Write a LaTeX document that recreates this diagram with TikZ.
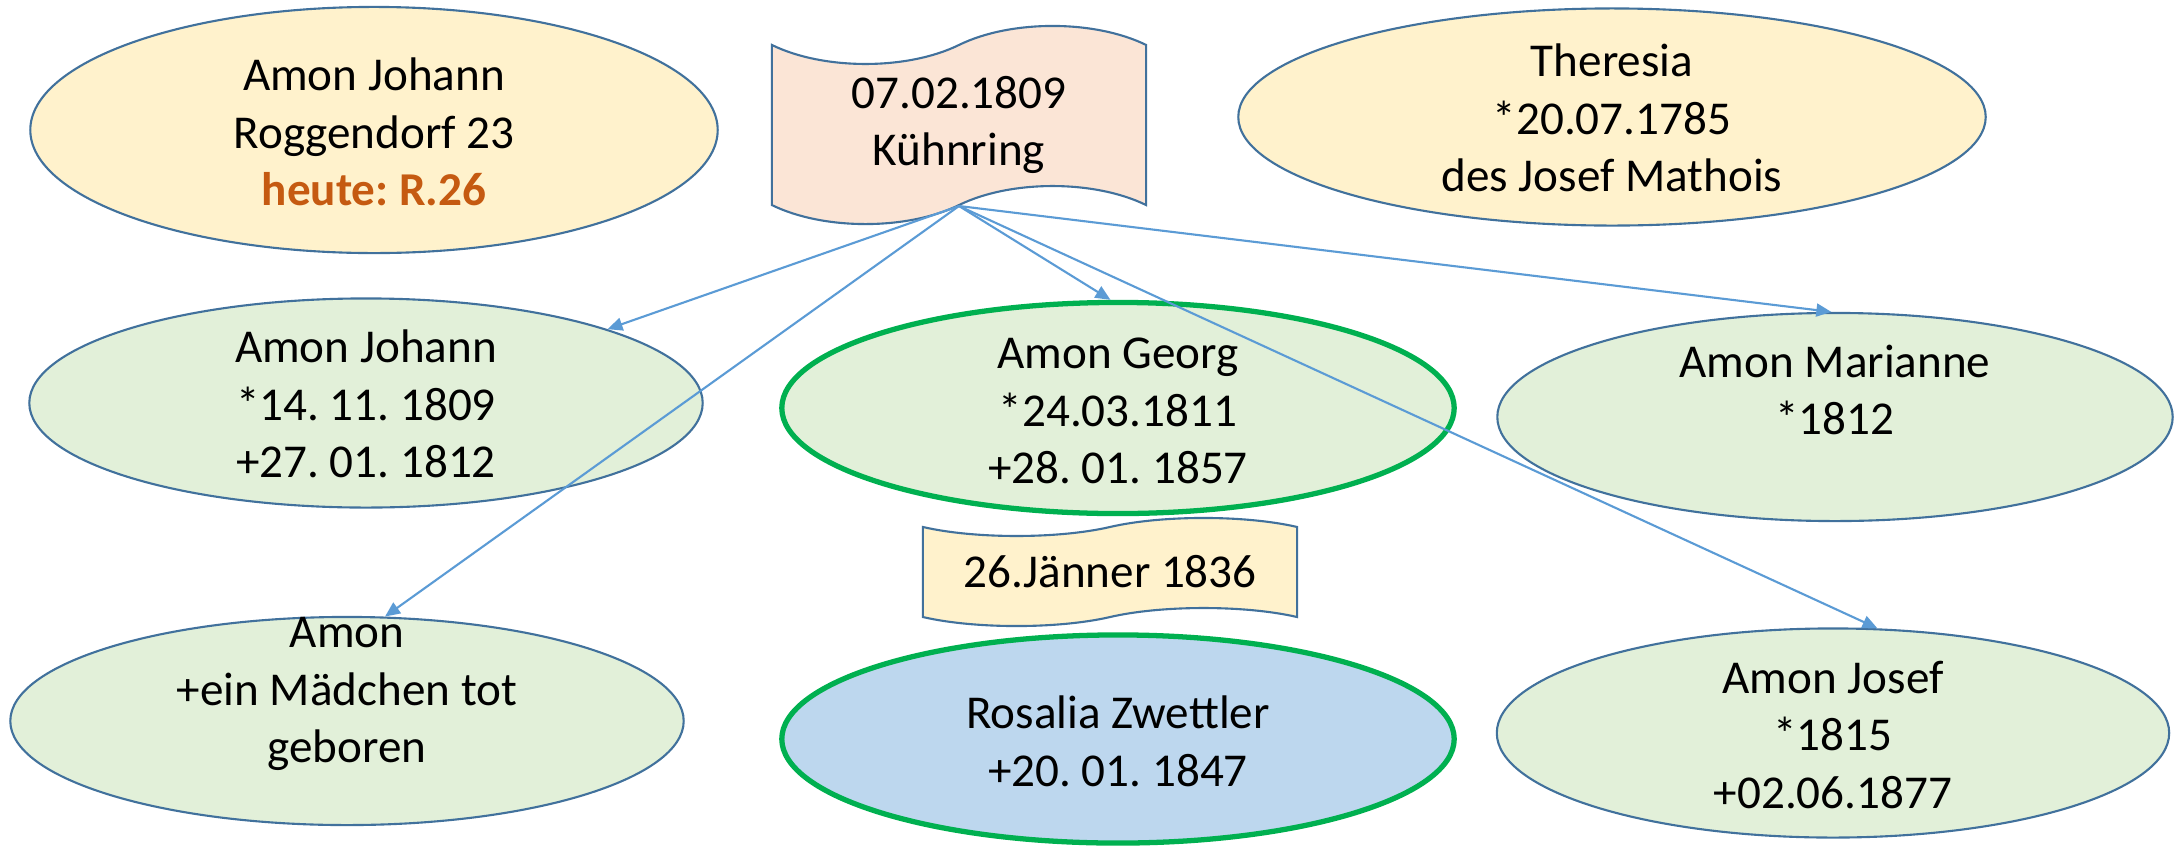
\documentclass[tikz,border=0pt]{standalone}
\usepackage{fontspec}
\setmainfont{Carlito}
\usetikzlibrary{shapes.geometric,shapes.symbols,arrows.meta}
\frenchspacing

\definecolor{ancestorfill}{HTML}{FFF2CC}
\definecolor{childfill}{HTML}{E2F0D9}
\definecolor{spousefill}{HTML}{BDD7EE}
\definecolor{eventfill}{HTML}{FBE5D6}
\definecolor{shapeline}{HTML}{41719C}
\definecolor{marriedline}{HTML}{00B050}
\definecolor{arrowline}{HTML}{5B9BD5}
\definecolor{noteorange}{HTML}{C55A11}

\begin{document}
\begin{tikzpicture}[
    x=0.01cm,
    y=-0.01cm,
    >={Triangle[length=0.15cm,width=0.13cm]},
    textline/.style={
        font=\fontsize{13.4}{16.4}\selectfont,
        align=center
    },
    person/.style={
        ellipse,
        draw=shapeline,
        line width=0.6pt,
        inner sep=0pt
    },
    ancestor/.style={
        person,
        fill=ancestorfill
    },
    child/.style={
        person,
        fill=childfill
    },
    married/.style={
        draw=marriedline,
        line width=1.5pt
    },
    event/.style={
        tape,
        textline,
        draw=shapeline,
        line width=0.6pt,
        inner sep=0pt,
        tape bend top=in and out,
        tape bend bottom=in and out
    },
    message/.style={
        ->,
        draw=arrowline,
        line width=0.6pt
    }
]

\useasboundingbox (0,0) rectangle (2178,845);

% Column positions
\def\LeftX{366}
\def\MidX{1118}
\def\RightX{1835}

% ==================================================
% Parents and marriage
% ==================================================

\node[ancestor, minimum width=6.87cm, minimum height=2.46cm]
    (johann) at (374,130) {};

\node[textline] (johannText) at (374,132)
    {Amon Johann\\Roggendorf 23\\\textcolor{noteorange}{\bfseries heute: R.26}};

\node[ancestor, minimum width=7.47cm, minimum height=2.17cm]
    (theresia) at (1612,117) {};

\node[textline] (theresiaText) at (1612,118)
    {Theresia\\*20.07.1785\\des Josef Mathois};

\node[event, fill=eventfill, minimum width=3.74cm, minimum height=1.98cm,
      tape bend height=0.38cm]
    (kuehnring) at (959,125)
    {07.02.1809\\Kühnring};

% ==================================================
% Children, first row
% ==================================================

\node[child, minimum width=6.73cm, minimum height=2.09cm]
    (johannJr) at (\LeftX,403) {};

\node[textline] (johannJrText) at (\LeftX,404)
    {Amon Johann\\*14. 11. 1809\\+27. 01. 1812};

\node[child, married, minimum width=6.72cm, minimum height=2.11cm]
    (georg) at (\MidX,408) {};

\node[textline] (georgText) at (\MidX,411)
    {Amon Georg\\*24.03.1811\\+28. 01. 1857};

\node[child, minimum width=6.75cm, minimum height=2.08cm]
    (marianne) at (\RightX,417) {};

\node[textline] (marianneText) at (\RightX,390)
    {Amon Marianne\\*1812};

% ==================================================
% Second row: daughter-in-law and younger children
% ==================================================

\node[event, fill=ancestorfill, minimum width=3.74cm, minimum height=1.08cm,
      tape bend height=0.18cm]
    (wedding) at (1110,572)
    {26.Jänner 1836};

\node[child, minimum width=6.73cm, minimum height=2.08cm]
    (girl) at (347,721) {};

\node[textline] (girlText) at (347,694)
    {Amon\\+ein Mädchen tot\\geboren};

\node[person, married, fill=spousefill, minimum width=6.72cm, minimum height=2.08cm]
    (rosalia) at (\MidX,739) {};

\node[textline] (rosaliaText) at (\MidX,741)
    {Rosalia Zwettler\\+20. 01. 1847};

\node[child, minimum width=6.72cm, minimum height=2.09cm]
    (josef) at (1833,733) {};

\node[textline] (josefText) at (1833,735)
    {Amon Josef\\*1815\\+02.06.1877};

% Baptisms after the marriage
\draw[message] (kuehnring.south) -- (johannJr.17);
\draw[message] (kuehnring.south) -- (girl.70);
\draw[message] (kuehnring.south) -- (georg.94);
\draw[message] (kuehnring.south) -- (josef.67);
\draw[message] (kuehnring.south) -- (marianne.92);

\end{tikzpicture}
\end{document}
